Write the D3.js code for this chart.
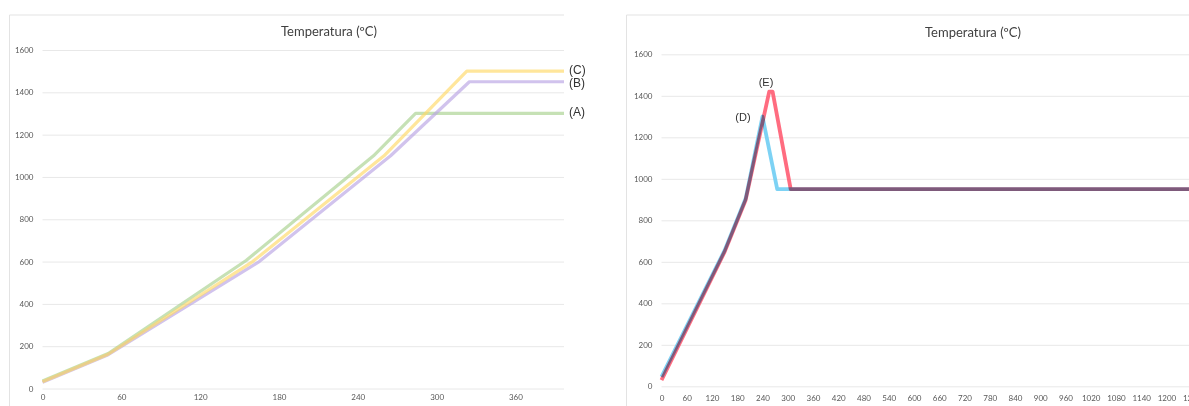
<!DOCTYPE html>
<html>
<head>
<meta charset="utf-8">
<script src="https://cdn.jsdelivr.net/npm/d3@7"></script>
<style>
  html, body { margin: 0; padding: 0; background: #fff; }
  svg { display: block; }
</style>
</head>
<body>
<svg id="chart" width="1189" height="406"></svg>
<script>
// ---------- data ----------
const chartTitle = "Temperatura (ºC)";
const yTicks = [0, 200, 400, 600, 800, 1000, 1200, 1400, 1600];
const xTicksLeft = [0, 60, 120, 180, 240, 300, 360];
const xTicksRight = [0, 60, 120, 180, 240, 300, 360, 420, 480, 540, 600, 660, 720, 780, 840, 900, 960, 1020, 1080, 1140, 1200, 1260];

const timeA = [0, 50, 155, 252, 284, 397];
const tempA = [35, 165, 605, 1100, 1300, 1300];
const timeB = [0, 50, 165, 265, 325, 397];
const tempB = [30, 160, 600, 1100, 1450, 1450];
const timeC = [0, 50, 160, 260, 323, 397];
const tempC = [32, 162, 600, 1100, 1500, 1500];

const timeD = [0, 150, 200, 240, 275, 1260];
const tempD = [45, 655, 905, 1300, 950, 950];
const timeE = [0, 150, 200, 256, 264, 307, 1260];
const tempE = [30, 648, 898, 1420, 1420, 950, 950];

const leftLabels = ["(A)", "(B)", "(C)"];
const rightLabels = ["(D)", "(E)"];

// ---------- drawing ----------
const svg = d3.select("#chart");
const tickFont = "Lato, 'Open Sans', sans-serif";
const fmt = d3.format("d");

function zip(t, v) { return t.map((d, i) => ({ x: d, y: v[i] })); }

function panel(opt) {
  const g = svg.append("g");
  const x = d3.scaleLinear().domain(opt.xDomain).range(opt.xRange);
  const y = d3.scaleLinear().domain([0, 1600]).range(opt.yRange);

  // frame (top + left)
  g.append("line").attr("x1", opt.frameX).attr("x2", opt.frameRight)
    .attr("y1", 15).attr("y2", 15).attr("stroke", "#e3e3e3").attr("stroke-width", 1);
  g.append("line").attr("x1", opt.frameX).attr("x2", opt.frameX)
    .attr("y1", 15).attr("y2", 406).attr("stroke", "#e3e3e3").attr("stroke-width", 1);

  // title
  g.append("text").attr("x", opt.titleX).attr("y", opt.titleY)
    .attr("text-anchor", "middle").attr("font-family", tickFont)
    .attr("font-size", 13).attr("fill", "#404040").text(chartTitle);

  // y axis with gridlines
  const yAxis = d3.axisLeft(y).tickValues(yTicks).tickFormat(fmt)
    .tickSize(-(opt.gridRight - opt.xRange[0])).tickPadding(opt.yPad);
  const ya = g.append("g").attr("transform", `translate(${opt.xRange[0]},0)`).call(yAxis);
  ya.select(".domain").remove();
  ya.selectAll(".tick line").attr("stroke", "#e8e8e8");
  ya.selectAll(".tick text").attr("font-family", tickFont).attr("font-size", 8)
    .attr("fill", "#595959");

  // x axis labels
  const xAxis = d3.axisBottom(x).tickValues(opt.xTicks).tickFormat(fmt).tickSize(0).tickPadding(0);
  const xa = g.append("g").attr("transform", `translate(0,${opt.xLabelY})`).call(xAxis);
  xa.select(".domain").remove();
  xa.selectAll(".tick text").attr("font-family", tickFont).attr("font-size", 8)
    .attr("fill", "#595959");

  const line = d3.line().x(d => x(d.x)).y(d => y(d.y));
  return { g, x, y, line };
}

// Left panel
const L = panel({
  xDomain: [0, 397], xRange: [42.5, 564], yRange: [388.5, 50],
  gridRight: 564, frameX: 9.5, frameRight: 564,
  titleX: 329, titleY: 36, yPad: 9, xTicks: xTicksLeft, xLabelY: 394
});

const leftSeries = [
  { t: timeA, v: tempA, color: "#a8d18d", label: leftLabels[0], ly: 116 },
  { t: timeB, v: tempB, color: "#b9a3e3", label: leftLabels[1], ly: 87 },
  { t: timeC, v: tempC, color: "#ffd966", label: leftLabels[2], ly: 73.5 }
];
leftSeries.forEach(s => {
  L.g.append("path").datum(zip(s.t, s.v)).attr("d", L.line)
    .attr("fill", "none").attr("stroke", s.color).attr("stroke-width", 3.2)
    .attr("stroke-opacity", 0.65).attr("stroke-linejoin", "round");
});
leftSeries.forEach(s => {
  L.g.append("text").attr("x", 569).attr("y", s.ly)
    .attr("font-family", "'Liberation Sans', Arial, sans-serif").attr("font-size", 12)
    .attr("fill", "#333").text(s.label);
});

// Right panel
const R = panel({
  xDomain: [0, 1260], xRange: [661.5, 1191.7], yRange: [386.3, 54.3],
  gridRight: 1189, frameX: 626.5, frameRight: 1189,
  titleX: 973, titleY: 37, yPad: 9, xTicks: xTicksRight, xLabelY: 395
});

const rightSeries = [
  { t: timeD, v: tempD, color: "#6fcdf3", label: rightLabels[0], lx: 743, ly: 121 },
  { t: timeE, v: tempE, color: "#ff5c72", label: rightLabels[1], lx: 766, ly: 86 }
];
const blend = R.g.append("g").style("isolation", "isolate");
rightSeries.forEach(s => {
  blend.append("path").datum(zip(s.t, s.v)).attr("d", R.line)
    .attr("fill", "none").attr("stroke", s.color).attr("stroke-width", 3.8)
    .attr("stroke-linejoin", "round").style("mix-blend-mode", "multiply")
    .attr("stroke-opacity", 0.9);
});
rightSeries.forEach(s => {
  R.g.append("text").attr("x", s.lx).attr("y", s.ly).attr("text-anchor", "middle")
    .attr("font-family", "'Liberation Sans', Arial, sans-serif").attr("font-size", 11)
    .attr("fill", "#333").text(s.label);
});
</script>
</body>
</html>
